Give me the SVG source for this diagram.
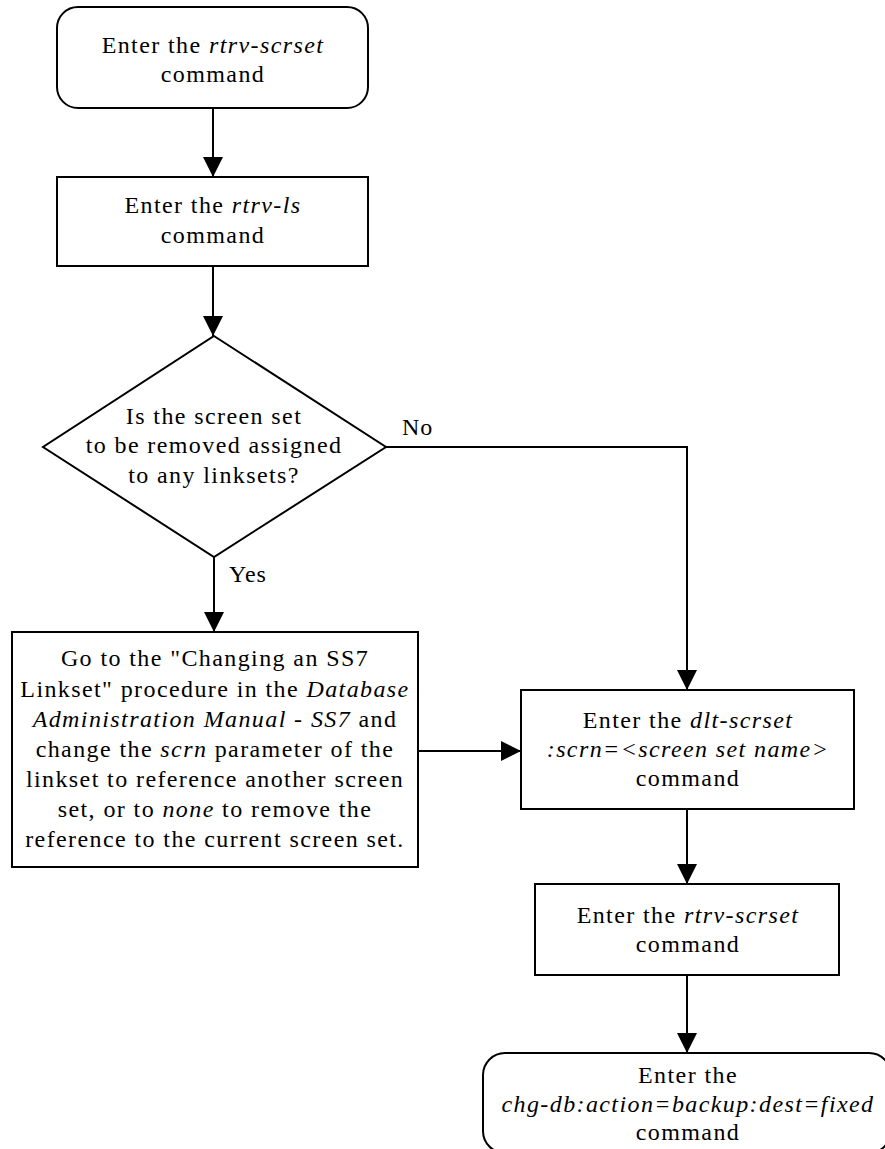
<svg xmlns="http://www.w3.org/2000/svg" width="885" height="1149" viewBox="0 0 885 1149">
<style>
.s{fill:#fff;stroke:#000;stroke-width:2}
.c{fill:none;stroke:#000;stroke-width:2}
.t{font-family:"Liberation Serif","Times New Roman",serif;font-size:24px;letter-spacing:1.4px;text-anchor:middle;fill:#000}
.l{font-family:"Liberation Serif","Times New Roman",serif;font-size:24px;letter-spacing:1px;fill:#000}
.i{font-style:italic}
</style>
<defs>
<marker id="ah" markerUnits="userSpaceOnUse" markerWidth="21" markerHeight="21" refX="20" refY="10" orient="auto" viewBox="0 0 21 21">
<path d="M0,0 L20,10 L0,20 Z" fill="#000"/>
</marker>
</defs>
<g id="connectors">
<line class="c" x1="213" y1="108" x2="213" y2="177" marker-end="url(#ah)"/>
<line class="c" x1="213" y1="266" x2="213" y2="336" marker-end="url(#ah)"/>
<line class="c" x1="214" y1="557" x2="214" y2="632" marker-end="url(#ah)"/>
<polyline class="c" points="386,447 687,447 687,690" marker-end="url(#ah)"/>
<line class="c" x1="418" y1="751" x2="521" y2="751" marker-end="url(#ah)"/>
<line class="c" x1="687" y1="809" x2="687" y2="884" marker-end="url(#ah)"/>
<line class="c" x1="687" y1="975" x2="687" y2="1053" marker-end="url(#ah)"/>
<text class="l" x="402" y="435">No</text>
<text class="l" x="229" y="582">Yes</text>
</g>
<g id="start">
<rect class="s" x="57" y="7" width="311" height="101" rx="21" ry="21"/>
<text class="t" x="213" y="53">Enter the <tspan class="i">rtrv-scrset</tspan></text>
<text class="t" x="213" y="82">command</text>
</g>
<g id="rtrv-ls">
<rect class="s" x="57" y="177" width="311" height="89"/>
<text class="t" x="213" y="213">Enter the <tspan class="i">rtrv-ls</tspan></text>
<text class="t" x="213" y="243">command</text>
</g>
<g id="decision">
<polygon class="s" points="214,336 386,447 214,557 43,447"/>
<text class="t" x="214" y="424">Is the screen set</text>
<text class="t" x="214" y="453">to be removed assigned</text>
<text class="t" x="214" y="483">to any linksets?</text>
</g>
<g id="change-linkset">
<rect class="s" x="12" y="632" width="406" height="235"/>
<text class="t" x="215" y="666">Go to the "Changing an SS7</text>
<text class="t" x="215" y="697">Linkset" procedure in the <tspan class="i">Database</tspan></text>
<text class="t" x="215" y="727"><tspan class="i">Administration Manual - SS7</tspan> and</text>
<text class="t" x="215" y="757">change the <tspan class="i">scrn</tspan> parameter of the</text>
<text class="t" x="215" y="787">linkset to reference another screen</text>
<text class="t" x="215" y="817">set, or to <tspan class="i">none</tspan> to remove the</text>
<text class="t" x="215" y="847">reference to the current screen set.</text>
</g>
<g id="dlt-scrset">
<rect class="s" x="521" y="690" width="333" height="119"/>
<text class="t" x="688" y="728">Enter the <tspan class="i">dlt-scrset</tspan></text>
<text class="t i" x="688" y="757">:scrn=&lt;screen set name&gt;</text>
<text class="t" x="688" y="786">command</text>
</g>
<g id="rtrv-scrset">
<rect class="s" x="535" y="884" width="304" height="91"/>
<text class="t" x="688" y="923">Enter the <tspan class="i">rtrv-scrset</tspan></text>
<text class="t" x="688" y="952">command</text>
</g>
<g id="end">
<rect class="s" x="483" y="1053" width="408" height="100" rx="22" ry="22"/>
<text class="t" x="688" y="1083">Enter the</text>
<text class="t i" x="688" y="1112">chg-db:action=backup:dest=fixed</text>
<text class="t" x="688" y="1140">command</text>
</g>
</svg>
